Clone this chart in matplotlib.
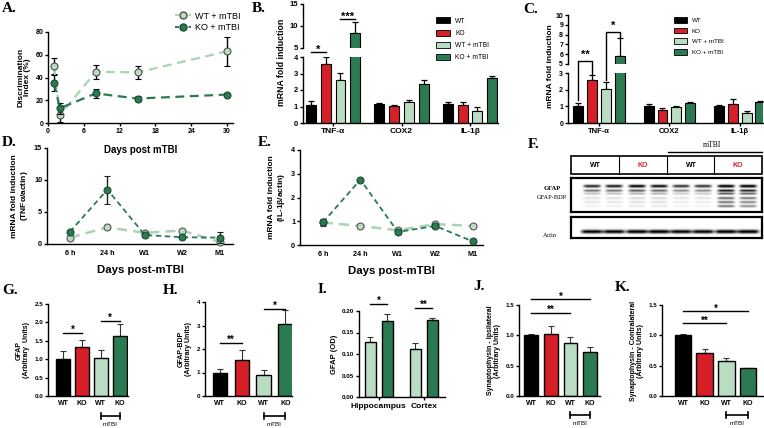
import numpy as np
import matplotlib
matplotlib.use('Agg')
import matplotlib.pyplot as plt
import matplotlib.transforms as mtransforms
from matplotlib.patches import Patch, Rectangle
from matplotlib.lines import Line2D

plt.rcParams['font.family'] = ['Liberation Sans', 'DejaVu Sans']
plt.rcParams['font.weight'] = 'bold'
plt.rcParams['axes.labelweight'] = 'bold'
plt.rcParams['axes.linewidth'] = 1.0
plt.rcParams['axes.facecolor'] = 'none'
plt.rcParams['mathtext.default'] = 'regular'

# ---------------- data ----------------
# A: discrimination index
days_a = [1, 2, 8, 15, 30]
di_wt = [50, 7, 45, 44.5, 63]
di_wt_err = [7, 6, 6, 5.5, 13]
di_ko = [35, 13, 26, 21.5, 25]
di_ko_err = [7, 5, 4, 2, 1]

# B, C: mRNA fold induction (rows = WT, KO, WT+mTBI, KO+mTBI)
genes = ['TNF-α', 'COX2', 'IL-1β']
series = ['WT', 'KO', 'WT + mTBI', 'KO + mTBI']
b_vals = [[1.1, 1.15, 1.15], [3.6, 1.05, 1.1], [2.6, 1.25, 0.75], [8.5, 2.35, 2.7]]
b_err = [[0.25, 0.08, 0.15], [0.4, 0.05, 0.15], [0.45, 0.12, 0.2], [2.3, 0.25, 0.15]]
c_vals = [[1.05, 1.05, 1.0], [2.6, 0.8, 1.15], [2.05, 0.95, 0.6], [5.85, 1.2, 1.25]]
c_err = [[0.15, 0.08, 0.08], [0.3, 0.08, 0.28], [0.4, 0.05, 0.1], [1.8, 0.08, 0.08]]

# D, E: time course
times = ['6 h', '24 h', 'W1', 'W2', 'M1']
tnf_wt = [1.0, 2.6, 1.75, 2.1, 0.3]
tnf_wt_err = [0.2, 0.3, 0.3, 0.3, 0.2]
tnf_ko = [1.9, 8.5, 1.4, 1.05, 1.0]
tnf_ko_err = [0.2, 2.2, 0.2, 0.2, 0.8]
il1_wt = [0.95, 0.8, 0.62, 0.88, 0.8]
il1_wt_err = [0.15, 0.1, 0.05, 0.1, 0.03]
il1_ko = [0.95, 2.75, 0.55, 0.8, 0.15]
il1_ko_err = [0.1, 0.08, 0.05, 0.08, 0.03]

# F: western blot band intensities per lane (WT WT KO KO | WT WT KO KO mTBI)
gfap_band1 = [0.8, 0.85, 0.95, 0.9, 0.75, 0.75, 1.0, 1.0]
gfap_band2 = [0.55, 0.55, 0.65, 0.6, 0.45, 0.45, 0.9, 0.85]
gfap_band3 = [0.25, 0.25, 0.3, 0.3, 0.2, 0.2, 0.65, 0.6]
bdp_band1 = [0.12, 0.12, 0.14, 0.14, 0.1, 0.1, 0.55, 0.5]
bdp_band2 = [0.1, 0.1, 0.12, 0.12, 0.08, 0.08, 0.5, 0.45]
bdp_band3 = [0.06, 0.06, 0.08, 0.08, 0.05, 0.05, 0.5, 0.42]
actin_band = [0.95, 0.95, 1.0, 1.0, 0.95, 0.95, 1.0, 1.0]
blot_groups = ['WT', 'KO', 'WT', 'KO']

# G-K: quantification
bar_labels = ['WT', 'KO', 'WT', 'KO']
gfap = [1.0, 1.33, 1.02, 1.62]
gfap_err = [0.21, 0.2, 0.24, 0.33]
gfap_bdp = [1.0, 1.52, 0.88, 3.08]
gfap_bdp_err = [0.13, 0.42, 0.23, 0.58]
regions_i = ['Hippocampus', 'Cortex']
od_wt = [0.127, 0.112]
od_wt_err = [0.012, 0.013]
od_ko = [0.177, 0.178]
od_ko_err = [0.017, 0.006]
syn_ipsi = [1.0, 1.03, 0.87, 0.72]
syn_ipsi_err = [0.02, 0.13, 0.11, 0.08]
syn_contra = [1.0, 0.71, 0.58, 0.455]
syn_contra_err = [0.03, 0.07, 0.05, 0.01]

BLACK, RED, LIGHT, DARK = '#000000', '#d61f26', '#b9dcc3', '#2a7b52'
COLS = [BLACK, RED, LIGHT, DARK]
LINE_LT = '#a9d3b5'

W, H = 764, 428
fig = plt.figure(figsize=(W / 100, H / 100), dpi=100)


def fx(x):
    return x / W


def fy(y):
    return 1 - y / H


def px_axes(x0, y0, x1, y1):
    return fig.add_axes([x0 / W, 1 - y1 / H, (x1 - x0) / W, (y1 - y0) / H])


def style(ax, fs=5):
    ax.spines[['top', 'right']].set_visible(False)
    ax.tick_params(labelsize=fs, width=1, length=2.5, pad=1)


def to_fig(ax, x, y):
    return fig.transFigure.inverted().transform(ax.transData.transform((x, y)))


def fig_line(pts, lw=1):
    xs = [p[0] for p in pts]
    ys = [p[1] for p in pts]
    fig.add_artist(Line2D(xs, ys, color='black', lw=lw, transform=fig.transFigure))


def sig(ax, x0, x1, y, txt, fs=7, dy=0.0):
    ax.plot([x0, x1], [y, y], color='black', lw=1, clip_on=False)
    ax.text((x0 + x1) / 2, y + dy, txt, ha='center', va='bottom', fontsize=fs, clip_on=False)


# ---------------- A ----------------
ax = px_axes(48, 32, 233, 123)
ax.errorbar(days_a, di_wt, yerr=di_wt_err, color=LINE_LT, ls=(0, (4, 2.5)), lw=1.6,
            marker='o', ms=5, mfc=LIGHT, mec='#4d4d4d', mew=0.8, ecolor='black',
            elinewidth=1, capsize=2.5, capthick=1, zorder=3, clip_on=False)
ax.errorbar(days_a, di_ko, yerr=di_ko_err, color=DARK, ls=(0, (4, 2.5)), lw=1.6,
            marker='o', ms=5, mfc=DARK, mec='#1c4a31', mew=0.8, ecolor='black',
            elinewidth=1, capsize=2.5, capthick=1, zorder=4, clip_on=False)
ax.set_xlim(0, 31)
ax.set_ylim(0, 80)
ax.set_xticks(range(0, 31, 6))
ax.set_yticks(range(0, 81, 20))
style(ax, 5)
ax.set_ylabel('Discrimination\nIndex (%)', fontsize=6, labelpad=3, linespacing=1.0)
ax.set_xlabel('Days post mTBI', fontsize=7, labelpad=7)
hl = [Line2D([], [], color=LINE_LT, ls=(0, (2, 1.5)), lw=1.4, marker='o', ms=5, mfc=LIGHT, mec='#4d4d4d'),
      Line2D([], [], color=DARK, ls=(0, (2, 1.5)), lw=1.4, marker='o', ms=5, mfc=DARK, mec='#1c4a31')]
fig.legend(hl, ['WT + mTBI', 'KO + mTBI'], loc='upper left', bbox_to_anchor=(fx(170), fy(7)),
           frameon=False, prop={'size': 6.5, 'weight': 'normal'}, handlelength=1.8,
           labelspacing=0.25, handletextpad=0.5, borderpad=0)


# ---------------- B / C (broken axes) ----------------
def broken_bars(lo_box, hi_box, vals, errs, lo_lim, hi_lim, lo_ticks, hi_ticks, offs, w, xlim, fs):
    lo = px_axes(*lo_box)
    hi = px_axes(*hi_box)
    x = np.arange(len(genes))
    for k in range(4):
        for a in (lo, hi):
            a.bar(x + offs[k], vals[k], w, color=COLS[k], edgecolor='black', lw=0.8, zorder=2)
            a.errorbar(x + offs[k], vals[k], yerr=[np.zeros(3), errs[k]], fmt='none', ecolor='black',
                       elinewidth=0.9, capsize=2, capthick=0.9, zorder=1)
    for a in (lo, hi):
        a.set_xlim(*xlim)
        style(a, fs)
    lo.set_ylim(*lo_lim)
    lo.set_yticks(lo_ticks)
    lo.set_xticks(x)
    lo.set_xticklabels(genes, fontsize=fs + 0.5)
    hi.set_ylim(*hi_lim)
    hi.set_yticks(hi_ticks)
    hi.spines['bottom'].set_visible(False)
    hi.set_xticks([])
    return lo, hi


b_offs = [-0.324, -0.108, 0.108, 0.324]
b_lo, b_hi = broken_bars((303, 57, 498, 123), (303, 4, 498, 48), b_vals, b_err, (0, 4), (5, 15),
                         range(0, 5), [5, 10, 15], b_offs, 0.146, (-0.44, 2.41), 5.5)
fig.text(fx(281), fy(62), 'mRNA fold induction', rotation=90, ha='center', va='center', fontsize=6.3)
sig(b_lo, b_offs[0], b_offs[1], 4.3, '*', fs=8, dy=-0.15)
sig(b_hi, b_offs[2], b_offs[3], 11.6, '***', fs=8, dy=-0.6)
fig.legend([Patch(fc=c, ec='black', lw=0.6) for c in COLS], series, loc='upper left',
           bbox_to_anchor=(fx(433), fy(14)), frameon=False, prop={'size': 4.8, 'weight': 'normal'},
           handlelength=2.0, handleheight=1.0, labelspacing=0.75, handletextpad=0.8, borderpad=0)

c_offs = [-0.293, -0.098, 0.098, 0.293]
c_lo, c_hi = broken_bars((568, 73, 763, 123), (568, 15, 763, 64), c_vals, c_err, (0, 3), (5, 10),
                         range(0, 4), range(5, 11), c_offs, 0.14, (-0.44, 2.33), 5)
fig.text(fx(551), fy(66), 'mRNA fold induction', rotation=90, ha='center', va='center', fontsize=6)
# brackets spanning the break
fig_line([to_fig(c_lo, c_offs[0], 1.38), to_fig(c_hi, c_offs[0], 5.3),
          to_fig(c_hi, c_offs[1], 5.3), to_fig(c_lo, c_offs[1], 2.95)])
p = to_fig(c_hi, 0.5 * (c_offs[0] + c_offs[1]), 5.45)
fig.text(p[0], p[1], '**', ha='center', va='bottom', fontsize=8)
fig_line([to_fig(c_lo, c_offs[2], 2.6), to_fig(c_hi, c_offs[2], 8.27),
          to_fig(c_hi, c_offs[3], 8.27), to_fig(c_hi, c_offs[3], 7.75)])
p = to_fig(c_hi, 0.5 * (c_offs[2] + c_offs[3]), 8.4)
fig.text(p[0], p[1], '*', ha='center', va='bottom', fontsize=8)
fig.legend([Patch(fc=c, ec='black', lw=0.6) for c in COLS], series, loc='upper left',
           bbox_to_anchor=(fx(671), fy(14)), frameon=False, prop={'size': 4.5, 'weight': 'normal'},
           handlelength=2.0, handleheight=1.0, labelspacing=0.75, handletextpad=0.8, borderpad=0)


# ---------------- D / E ----------------
def time_course(box, wt, wt_err, ko, ko_err, ylim, yticks, xlim, ylabel):
    a = px_axes(*box)
    x = np.arange(len(times))
    a.errorbar(x, wt, yerr=wt_err, color=LINE_LT, ls=(0, (4, 2.5)), lw=1.8, marker='o', ms=5,
               mfc=LIGHT, mec='#555555', mew=0.8, ecolor='#333333', elinewidth=1, capsize=2.5,
               capthick=1, zorder=3, clip_on=False)
    a.errorbar(x, ko, yerr=ko_err, color=DARK, ls=(0, (3, 2)), lw=1.3, marker='o', ms=5,
               mfc=DARK, mec='#1c4a31', mew=0.8, ecolor='#222222', elinewidth=1, capsize=2.5,
               capthick=1, zorder=4, clip_on=False)
    a.set_xlim(*xlim)
    a.set_ylim(*ylim)
    a.set_yticks(yticks)
    a.set_xticks(x)
    a.set_xticklabels(times)
    style(a, 5.2)
    a.tick_params(axis='x', length=0, pad=4)
    a.set_ylabel(ylabel, fontsize=6, labelpad=3, linespacing=1.1)
    a.set_xlabel('Days post-mTBI', fontsize=8.2, labelpad=6)
    return a


time_course((47, 148, 233, 244), tnf_wt, tnf_wt_err, tnf_ko, tnf_ko_err, (0, 15), [0, 5, 10, 15],
            (-0.61, 4.35), 'mRNA fold induction\n(TNF$\\alpha$/actin)')
time_course((300, 150, 483, 245), il1_wt, il1_wt_err, il1_ko, il1_ko_err, (0, 4), range(0, 5),
            (-0.61, 4.27), 'mRNA fold induction\n(IL-1$\\beta$/actin)')

# ---------------- F (western blot) ----------------
lane_x = [21, 43, 66, 88, 110, 132, 155, 177]


def blot(box, bands, lane_w):
    a = px_axes(*box)
    nx, ny = box[2] - box[0], box[3] - box[1]
    yy, xx = np.mgrid[0:ny:0.25, 0:nx:0.25]
    img = np.zeros_like(xx)
    for yc, thick, inten in bands:
        for k, xc in enumerate(lane_x):
            img += inten[k] * np.exp(-((yy - yc) / thick) ** 2) * np.exp(-((xx - xc) / lane_w) ** 6)
    a.imshow(np.clip(img, 0, 1), cmap='gray_r', vmin=0, vmax=0.9, extent=(0, nx, ny, 0),
             aspect='auto', interpolation='bilinear')
    a.set_xticks([])
    a.set_yticks([])
    for s in a.spines.values():
        s.set_linewidth(1.6)
    return a


blot((571, 178, 762, 212), [(8, 1.4, gfap_band1), (12.5, 1.1, gfap_band2), (15.5, 1.0, gfap_band3),
                            (20, 1.2, bdp_band1), (24, 1.2, bdp_band2), (28, 1.2, bdp_band3)], 8.5)
blot((571, 217, 762, 238), [(14.5, 1.8, actin_band)], 10.8)

ov = fig.add_axes([0, 0, 1, 1])
ov.set_xlim(0, W)
ov.set_ylim(H, 0)
ov.axis('off')
ov.add_patch(Rectangle((571, 156), 191, 18, fill=False, lw=1.2, ec='black'))
for xd in [619, 667, 714]:
    ov.plot([xd, xd], [156, 174], color='black', lw=0.8)
for xc, lab in zip([595, 643, 691, 738], blot_groups):
    ov.text(xc, 165.5, lab, ha='center', va='center', fontsize=5,
            color=RED if lab == 'KO' else 'black')
ov.plot([668, 762], [152, 152], color='black', lw=1)
ov.text(712, 145, 'mTBI', ha='center', va='center', fontsize=5.5, family='Liberation Serif',
        weight='normal')
ov.text(552, 188, 'GFAP', ha='center', va='center', fontsize=4.8, family='Liberation Serif')
ov.text(552, 197, 'GFAP-BDP', ha='center', va='center', fontsize=4.6, family='Liberation Serif',
        weight='normal')
ov.text(550, 235, 'Actin', ha='center', va='center', fontsize=4.5, family='Liberation Serif',
        weight='normal')


# ---------------- G-K ----------------
def bar4(box, vals, errs, ylim, yticks, ticklabels, xlim, width, ylabel, bracket_y):
    a = px_axes(*box)
    x = np.arange(4)
    a.bar(x, vals, width, color=COLS, edgecolor='black', lw=1, zorder=2)
    a.errorbar(x, vals, yerr=[np.zeros(4), errs], fmt='none', ecolor='#333333', elinewidth=0.8,
               capsize=2, capthick=0.8, zorder=1)
    a.set_xlim(*xlim)
    a.set_ylim(*ylim)
    a.set_yticks(yticks)
    a.set_yticklabels(ticklabels)
    a.set_xticks(x)
    a.set_xticklabels(bar_labels)
    style(a, 4.5)
    a.tick_params(axis='x', length=0, labelsize=5, pad=3)
    a.set_ylabel(ylabel, fontsize=5, labelpad=3, linespacing=1.1)
    tr = mtransforms.blended_transform_factory(a.transData, fig.transFigure)
    a.plot([2, 3], [fy(bracket_y)] * 2, color='black', lw=1.2, transform=tr, clip_on=False)
    for xe in (2, 3):
        a.plot([xe, xe], [fy(bracket_y - 3), fy(bracket_y + 3)], color='black', lw=1.2,
               transform=tr, clip_on=False)
    a.text(2.5, fy(bracket_y + 8.5), 'mTBI', transform=tr, ha='center', va='center',
           fontsize=4.5, weight='normal')
    return a


g = bar4((48, 304, 128, 396), gfap, gfap_err, (0, 2.5), [0, 0.5, 1.0, 1.5, 2.0, 2.5],
         ['0.0', '0.5', '1.0', '1.5', '2.0', '2.5'], (-0.82, 3.45), 0.75,
         'GFAP\n(Arbitrary  Units)', 416)
sig(g, 0, 1, 1.72, '*', fs=7, dy=-0.05)
sig(g, 2, 3, 2.04, '*', fs=7, dy=-0.05)

h = bar4((205, 302, 292, 396), gfap_bdp, gfap_bdp_err, (0, 4), range(0, 5),
         ['0', '1', '2', '3', '4'], (-0.68, 3.3), 0.65, 'GFAP-BDP\n(Arbitrary Units)', 416)
sig(h, 0, 1, 2.26, '**', fs=7, dy=-0.1)
sig(h, 2, 3, 3.72, '*', fs=7, dy=-0.1)

ai = px_axes(359, 311, 445, 397)
xi = np.arange(2)
ai.bar(xi - 0.19, od_wt, 0.245, color=LIGHT, edgecolor='black', lw=1, zorder=2)
ai.bar(xi + 0.19, od_ko, 0.245, color=DARK, edgecolor='black', lw=1, zorder=2)
ai.errorbar(xi - 0.19, od_wt, yerr=[np.zeros(2), od_wt_err], fmt='none', ecolor='#333333',
            elinewidth=0.8, capsize=2, capthick=0.8, zorder=1)
ai.errorbar(xi + 0.19, od_ko, yerr=[np.zeros(2), od_ko_err], fmt='none', ecolor='#333333',
            elinewidth=0.8, capsize=2, capthick=0.8, zorder=1)
ai.set_xlim(-0.44, 1.47)
ai.set_ylim(0, 0.2)
ai.set_yticks([0, 0.05, 0.1, 0.15, 0.2])
ai.set_yticklabels(['0.00', '0.05', '0.10', '0.15', '0.20'])
ai.set_xticks(xi)
ai.set_xticklabels(regions_i)
style(ai, 4.5)
ai.tick_params(axis='x', labelsize=6, length=2, pad=2)
ai.set_ylabel('GFAP (OD)', fontsize=5.5, labelpad=3)
sig(ai, -0.19, 0.19, 0.216, '*', fs=7, dy=-0.004)
sig(ai, 0.81, 1.19, 0.207, '**', fs=7, dy=-0.004)

j = bar4((519, 305, 600, 396), syn_ipsi, syn_ipsi_err, (0, 1.5), [0, 0.5, 1.0, 1.5],
         ['0.0', '0.5', '1.0', '1.5'], (-0.61, 3.5), 0.7,
         'Synaptophysin - Ipsilateral\n(Arbitrary Units)', 415)
sig(j, 0, 3, 1.6, '*', fs=7, dy=-0.04)
sig(j, 0, 2, 1.37, '**', fs=7, dy=-0.04)

k = bar4((662, 305, 763, 396), syn_contra, syn_contra_err, (0, 1.5), [0, 0.5, 1.0, 1.5],
         ['0.0', '0.5', '1.0', '1.5'], (-0.97, 3.69), 0.78,
         'Synaptophysin - Contralateral\n(Arbitrary Units)', 415)
sig(k, 0, 3, 1.4, '*', fs=7, dy=-0.04)
sig(k, 0, 2, 1.2, '**', fs=7, dy=-0.04)

# ---------------- panel letters ----------------
letters = [('A.', 2, 12), ('B.', 252, 12), ('C.', 523, 13), ('D.', 2, 146), ('E.', 258, 146),
           ('F.', 528, 148), ('G.', 2, 294), ('H.', 163, 294), ('I.', 318, 293), ('J.', 473, 290),
           ('K.', 615, 291)]
for t, x0, y0 in letters:
    ov.text(x0, y0, t, ha='left', va='baseline', fontsize=11, family='Liberation Serif')

fig.savefig('out.png', dpi=100)
